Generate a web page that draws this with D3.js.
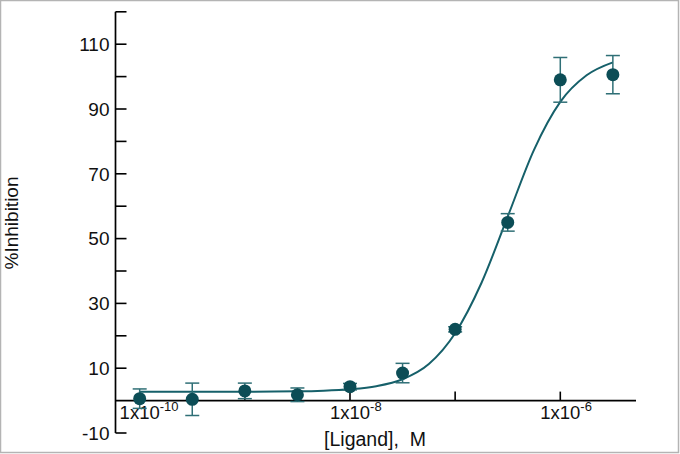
<!DOCTYPE html>
<html><head><meta charset="utf-8">
<script src="https://cdn.jsdelivr.net/npm/d3@7"></script>
<style>
html,body{margin:0;padding:0;background:#fff;}
svg{display:block;}
</style></head>
<body>
<svg id="chart" width="680" height="454"></svg>
<script>
// ---- data ----
const concLog = [-10, -9.5, -9, -8.5, -8, -7.5, -7, -6.5, -6, -5.5];        // log10 [Ligand], M
const inhibition = [0.6, 0.4, 3.0, 1.8, 4.3, 8.5, 22.0, 55.0, 99.0, 100.6];   // %Inhibition
const errors = [3.0, 5.0, 2.4, 2.1, 1.0, 3.0, 0.8, 2.7, 6.9, 5.9];
const fitLog = [-10, -9.5, -9, -8.5, -8.25, -8, -7.75, -7.5, -7.25, -7, -6.75, -6.5, -6.25, -6, -5.75, -5.5];
const fitVal = [2.7, 2.7, 2.75, 2.85, 3.05, 3.5, 4.45, 6.6, 11.3, 20.8, 36.3, 56.8, 77.4, 92.2, 100.4, 104.4];
const xTickLog = [-10, -9, -8, -7, -6];
const xLabelExp = ["-10", null, "-8", null, "-6"];
const yTicks = [-10, 0, 10, 20, 30, 40, 50, 60, 70, 80, 90, 100, 110, 120];
const yLabels = ["-10", "", "10", "", "30", "", "50", "", "70", "", "90", "", "110", ""];

// ---- layout ----
const svg = d3.select("#chart");
const x = d3.scaleLinear().domain([-10.23, -5.28]).range([115.5, 636]);
const y = d3.scaleLinear().domain([-10, 120]).range([433, 11.8]);
const markColor = "#0c4d56";
const lineColor = "#16606a";
const errColor = "#2f6f76";
const font = "'Liberation Sans', Arial, sans-serif";

// border
svg.append("rect").attr("x", 0.5).attr("y", 0.5).attr("width", 678).attr("height", 452)
  .attr("fill", "none").attr("stroke", "#b4b4b4").attr("stroke-width", 1.5);

// y axis
const yAxis = svg.append("g");
yAxis.append("line").attr("x1", x.range()[0]).attr("x2", x.range()[0])
  .attr("y1", y(120)).attr("y2", y(-10)).attr("stroke", "#000").attr("stroke-width", 1.7);
yAxis.selectAll("line.tick").data(yTicks.filter(t => t !== 0)).join("line")
  .attr("class", "tick")
  .attr("x1", x.range()[0]).attr("x2", x.range()[0] + 11)
  .attr("y1", d => y(d)).attr("y2", d => y(d))
  .attr("stroke", "#000").attr("stroke-width", 1.6);
yAxis.selectAll("text").data(yTicks.map((t, i) => ({t, l: yLabels[i]})).filter(d => d.l)).join("text")
  .attr("x", x.range()[0] - 6).attr("y", d => y(d.t)).attr("dy", "0.36em")
  .attr("text-anchor", "end").attr("font-family", font).attr("font-size", 19)
  .attr("fill", "#111").text(d => d.l);

// x axis at y = 0
const xAxis = svg.append("g");
xAxis.append("line").attr("x1", x.range()[0]).attr("x2", x.range()[1])
  .attr("y1", y(0)).attr("y2", y(0)).attr("stroke", "#000").attr("stroke-width", 1.7);
xAxis.selectAll("line.tick").data(xTickLog).join("line")
  .attr("class", "tick")
  .attr("x1", d => x(d)).attr("x2", d => x(d))
  .attr("y1", y(0)).attr("y2", y(0) - 9)
  .attr("stroke", "#000").attr("stroke-width", 1.6);
xTickLog.forEach((t, i) => {
  if (!xLabelExp[i]) return;
  const txt = xAxis.append("text").attr("y", 419).attr("font-family", font).attr("fill", "#111");
  const base = txt.append("tspan").attr("font-size", 18.5).text("1x10");
  txt.append("tspan").attr("font-size", 13).attr("dy", -8).text(xLabelExp[i]);
  const w = base.node().getComputedTextLength();
  txt.attr("x", x(t) - w / 2);
});

// axis titles
svg.append("text").attr("x", 375).attr("y", 446).attr("text-anchor", "middle")
  .attr("font-family", font).attr("font-size", 19.5).attr("fill", "#111")
  .style("white-space", "pre").text("[Ligand],  M");
svg.append("text").attr("transform", "translate(18,223) rotate(-90)")
  .attr("text-anchor", "middle").attr("font-family", font)
  .attr("font-size", 19).attr("fill", "#111").text("%Inhibition");

// fitted curve
const line = d3.line().x((d, i) => x(fitLog[i])).y(d => y(d)).curve(d3.curveMonotoneX);
svg.append("path").datum(fitVal).attr("d", line)
  .attr("fill", "none").attr("stroke", lineColor).attr("stroke-width", 2);

// error bars
const pts = concLog.map((c, i) => ({c, v: inhibition[i], e: errors[i]}));
const eb = svg.append("g").attr("stroke", errColor).attr("stroke-width", 1.5);
eb.selectAll("line.v").data(pts).join("line").attr("class", "v")
  .attr("x1", d => x(d.c)).attr("x2", d => x(d.c))
  .attr("y1", d => y(d.v + d.e)).attr("y2", d => y(d.v - d.e));
eb.selectAll("line.t").data(pts).join("line").attr("class", "t")
  .attr("x1", d => x(d.c) - 7).attr("x2", d => x(d.c) + 7)
  .attr("y1", d => y(d.v + d.e)).attr("y2", d => y(d.v + d.e));
eb.selectAll("line.b").data(pts).join("line").attr("class", "b")
  .attr("x1", d => x(d.c) - 7).attr("x2", d => x(d.c) + 7)
  .attr("y1", d => y(d.v - d.e)).attr("y2", d => y(d.v - d.e));

// points
svg.append("g").selectAll("circle").data(pts).join("circle")
  .attr("cx", d => x(d.c)).attr("cy", d => y(d.v)).attr("r", 6.5)
  .attr("fill", markColor);
</script>
</body></html>
